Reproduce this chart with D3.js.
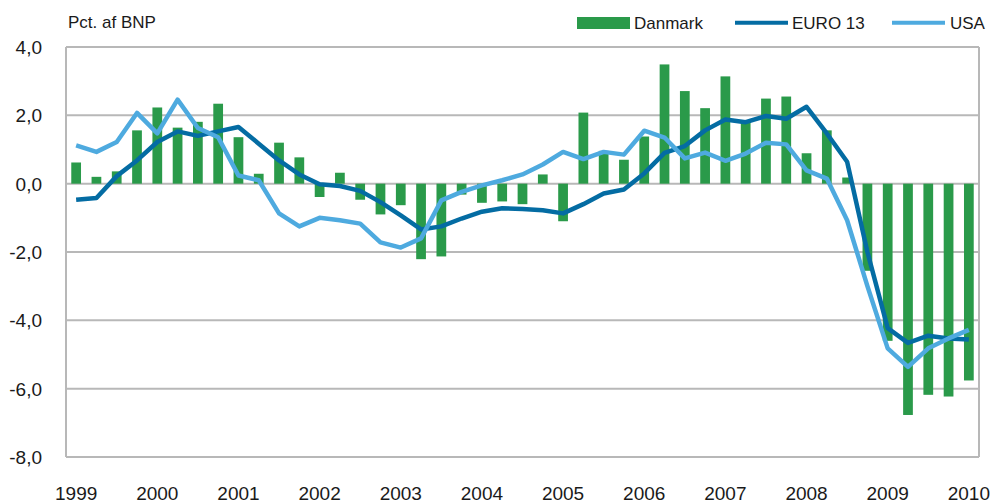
<!DOCTYPE html>
<html><head><meta charset="utf-8">
<script src="https://cdn.jsdelivr.net/npm/d3@7"></script>
<style>
html,body{margin:0;padding:0;background:#fff;}
svg text{font-family:"Liberation Sans",Arial,sans-serif;fill:#1a1a1a;}
</style></head>
<body><svg id="chart" width="995" height="504"></svg>
<script>
const quarters = ["1999K1","1999K2","1999K3","1999K4","2000K1","2000K2","2000K3","2000K4",
"2001K1","2001K2","2001K3","2001K4","2002K1","2002K2","2002K3","2002K4",
"2003K1","2003K2","2003K3","2003K4","2004K1","2004K2","2004K3","2004K4",
"2005K1","2005K2","2005K3","2005K4","2006K1","2006K2","2006K3","2006K4",
"2007K1","2007K2","2007K3","2007K4","2008K1","2008K2","2008K3","2008K4",
"2009K1","2009K2","2009K3","2009K4","2010K1"];
const yearLabels = ["1999","2000","2001","2002","2003","2004","2005","2006","2007","2008","2009","2010"];
const yTicks = [4,2,0,-2,-4,-6,-8];
const danmark = [0.62,0.2,0.36,1.56, 2.23,1.64,1.81,2.34, 1.36,0.29,1.2,0.77,
 -0.39,0.32,-0.47,-0.9, -0.63,-2.21,-2.13,-0.32, -0.56,-0.52,-0.6,0.27,
 -1.1,2.08,0.96,0.7, 1.38,3.49,2.71,2.21, 3.14,1.83,2.49,2.55,
 0.89,1.56,0.18,-2.55, -4.6,-6.77,-6.18,-6.23, -5.76];
const euro13 = [-0.47,-0.42,0.22,0.68, 1.22,1.53,1.4,1.53, 1.66,1.17,0.68,0.27,
 -0.02,-0.07,-0.21,-0.54, -0.93,-1.34,-1.25,-1.02, -0.82,-0.72,-0.74,-0.78,
 -0.87,-0.6,-0.29,-0.17, 0.3,0.9,1.1,1.56, 1.88,1.8,1.98,1.9,
 2.25,1.47,0.64,-2.0, -4.23,-4.66,-4.45,-4.53, -4.56];
const usa = [1.12,0.93,1.22,2.07, 1.47,2.46,1.63,1.36, 0.24,0.1,-0.87,-1.25,
 -1.0,-1.07,-1.17,-1.72, -1.87,-1.6,-0.49,-0.24, -0.05,0.1,0.27,0.56,
 0.93,0.72,0.93,0.85, 1.55,1.35,0.74,0.91, 0.67,0.88,1.2,1.15,
 0.39,0.15,-1.07,-3.0, -4.82,-5.36,-4.82,-4.53, -4.28];

const C = {green:"#2a9a4a", dark:"#046ca3", light:"#4eaadf", grid:"#b8b8b8"};
const L=66, R=979, T=47, B=457;
const svg = d3.select("#chart");
const x = d3.scaleBand().domain(quarters).range([L,R]).paddingInner(0.52).paddingOuter(0.26);
const y = d3.scaleLinear().domain([-8,4]).range([B,T]);
const cx = q => x(q) + x.bandwidth()/2;

// gridlines
svg.append("g").selectAll("line").data(yTicks).join("line")
  .attr("x1",L).attr("x2",R).attr("y1",d=>y(d)).attr("y2",d=>y(d))
  .attr("stroke",C.grid).attr("stroke-width",2);
svg.append("line").attr("x1",L).attr("x2",L).attr("y1",T).attr("y2",B).attr("stroke",C.grid).attr("stroke-width",2);
svg.append("line").attr("x1",R).attr("x2",R).attr("y1",T).attr("y2",B).attr("stroke",C.grid).attr("stroke-width",2);

// y labels
svg.append("g").selectAll("text").data(yTicks).join("text")
  .attr("x",42).attr("y",d=>y(d)+7).attr("text-anchor","end").attr("font-size",19)
  .text(d=>d3.format(".1f")(d).replace(".",",").replace("−","-"));

// x labels
svg.append("g").selectAll("text").data(yearLabels).join("text")
  .attr("x",d=>cx(d+"K1")).attr("y",500).attr("text-anchor","middle").attr("font-size",19)
  .text(d=>d);

// bars
svg.append("g").selectAll("rect").data(quarters).join("rect")
  .attr("x",q=>x(q)).attr("width",x.bandwidth())
  .attr("y",(q,i)=>y(Math.max(0,danmark[i])))
  .attr("height",(q,i)=>Math.abs(y(danmark[i])-y(0)))
  .attr("fill",C.green);

const line = d3.line().x((d,i)=>cx(quarters[i])).y(d=>y(d));
svg.append("path").datum(euro13).attr("d",line).attr("fill","none")
  .attr("stroke",C.dark).attr("stroke-width",4.5).attr("stroke-linejoin","round");
svg.append("path").datum(usa).attr("d",line).attr("fill","none")
  .attr("stroke",C.light).attr("stroke-width",4.5).attr("stroke-linejoin","round");

// title
svg.append("text").attr("x",68).attr("y",28).attr("font-size",17).text("Pct. af BNP");

// legend
const lg = svg.append("g");
lg.append("rect").attr("x",577).attr("y",17).attr("width",53).attr("height",12).attr("fill",C.green);
lg.append("text").attr("x",634).attr("y",29).attr("font-size",17).text("Danmark");
lg.append("line").attr("x1",735).attr("x2",788).attr("y1",22.7).attr("y2",22.7).attr("stroke",C.dark).attr("stroke-width",4);
lg.append("text").attr("x",792).attr("y",29).attr("font-size",17).text("EURO 13");
lg.append("line").attr("x1",892).attr("x2",945).attr("y1",22.7).attr("y2",22.7).attr("stroke",C.light).attr("stroke-width",4);
lg.append("text").attr("x",950).attr("y",29).attr("font-size",17).text("USA");
</script></body></html>
